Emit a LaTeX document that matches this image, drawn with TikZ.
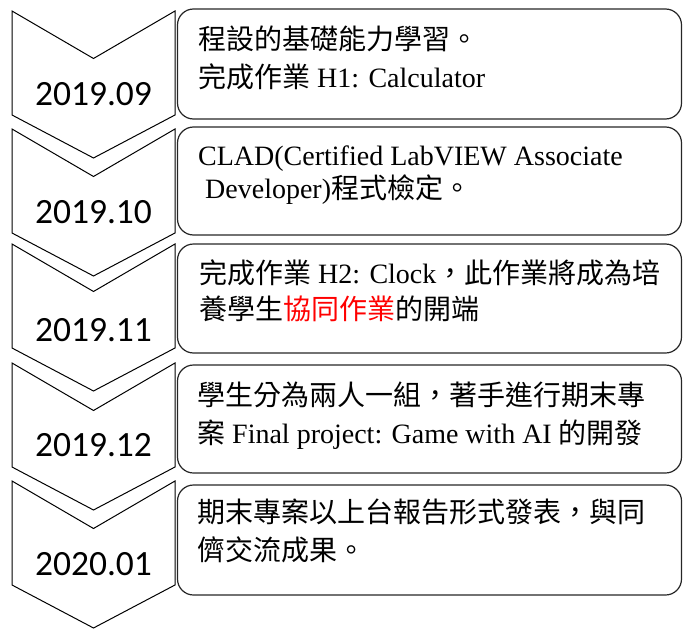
\documentclass[tikz,border=0pt]{standalone}
\usepackage{fontspec}
\setmainfont{Liberation Serif}
\newfontfamily\cjk{Noto Sans CJK TC}
\newfontfamily\datefont{Carlito}
\tikzset{
  chev/.style={draw=black, line width=1pt, line join=miter},
  tbox/.style={draw=black!85, line width=1.2pt, rounded corners=16pt},
  datetxt/.style={inner sep=0pt, anchor=base, font=\datefont\fontsize{35.5}{40}\selectfont},
  linetxt/.style={inner sep=0pt, anchor=base west, font=\fontsize{28}{34}\selectfont}
}
\newcommand{\chevat}[1]{%
  \draw[chev] (12,#1) -- (93.5,#1+47.5) -- (175,#1) -- (175,#1+104) -- (93.5,#1+147) -- (12,#1+104) -- cycle;}
\begin{document}
\begin{tikzpicture}[x=1pt,y=-1pt]
\useasboundingbox (0,0) rectangle (683,629);
% chevrons
\chevat{11}
\chevat{129}
\chevat{244}
\chevat{363}
\chevat{481}
% dates
\node[datetxt] (d1) at (93.5,105) {2019.09};
\node[datetxt] (d2) at (93.5,223) {2019.10};
\node[datetxt] (d3) at (93.5,341) {2019.11};
\node[datetxt] (d4) at (93.5,456) {2019.12};
\node[datetxt] (d5) at (93.5,575) {2020.01};
% boxes
\draw[tbox] (177.5,9) rectangle (681.5,119);
\draw[tbox] (177.5,127) rectangle (681.5,235);
\draw[tbox] (177.5,244) rectangle (681.5,353);
\draw[tbox] (177.5,365) rectangle (681.5,473);
\draw[tbox] (177.5,485) rectangle (681.5,595);
% texts
\node[linetxt] (t1a) at (198,49) {{\cjk 程設的基礎能力學習。}};
\node[linetxt] (t1b) at (198,87) {{\cjk 完成作業} H1: Calculator};
\node[linetxt] (t2a) at (198,165) {CLAD(Certified LabVIEW Associate};
\node[linetxt] (t2b) at (198,198) {\hspace*{7pt}Developer){\cjk 程式檢定。}};
\node[linetxt] (t3a) at (199,283) {{\cjk 完成作業} H2: Clock{\cjk ，此作業將成為培}};
\node[linetxt] (t3b) at (199,319) {{\cjk 養學生\textcolor{red}{協同作業}的開端}};
\node[linetxt] (t4a) at (197,405) {{\cjk 學生分為兩人一組，著手進行期末專}};
\node[linetxt] (t4b) at (197,443) {{\cjk 案} Final project: Game with AI {\cjk 的開發}};
\node[linetxt] (t5a) at (197,522) {{\cjk 期末專案以上台報告形式發表，與同}};
\node[linetxt] (t5b) at (197,560) {{\cjk 儕交流成果。}};
\end{tikzpicture}
\end{document}
